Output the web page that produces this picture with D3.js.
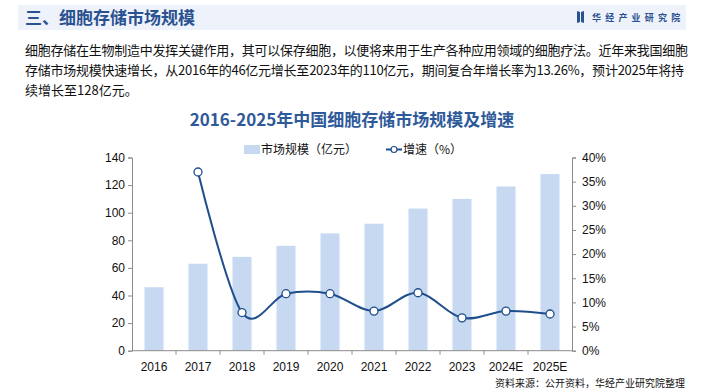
<!DOCTYPE html>
<html>
<head>
<meta charset="utf-8">
<script src="https://cdn.jsdelivr.net/npm/d3@7/dist/d3.min.js"></script>
<style>
    body { margin: 0; background: #fff; }
    svg { display: block; font-family: "Liberation Sans", Arial, "Noto Sans CJK SC", sans-serif; }
</style>
</head>
<body>
<div id="chart"></div>
<script>
// data
const years = ['2016', '2017', '2018', '2019', '2020', '2021', '2022', '2023', '2024E', '2025E'];
const marketSize = [46, 63, 68, 76, 85, 92, 103, 110, 119, 128];   // 亿元
const growth = [null, 37.0, 7.9, 11.8, 11.8, 8.2, 12.0, 6.8, 8.2, 7.6]; // %
const leftTicks = [0, 20, 40, 60, 80, 100, 120, 140];
const rightTicks = [0, 5, 10, 15, 20, 25, 30, 35, 40];

const paraLines = [
    '细胞存储在生物制造中发挥关键作用，其可以保存细胞，以便将来用于生产各种应用领域的细胞疗法。近年来我国细胞',
    '存储市场规模快速增长，从2016年的46亿元增长至2023年的110亿元，期间复合年增长率为13.26%，预计2025年将持',
    '续增长至128亿元。'
];

const width = 705, height = 392;
const darkBlue = '#2a5190';
const barColor = '#c6d9f1';
const axisColor = '#8c8c8c';
const cjk = '"Noto Sans CJK SC", sans-serif';

const svg = d3.select('#chart').append('svg')
    .attr('width', width).attr('height', height);

// header banner
svg.append('rect')
    .attr('x', 18).attr('y', 5).attr('width', 668).attr('height', 25)
    .attr('fill', '#eef3fb');
svg.append('text')
    .attr('x', 25).attr('y', 24)
    .attr('font-family', cjk).attr('font-size', 17).attr('font-weight', 'bold')
    .attr('fill', darkBlue)
    .text('三、细胞存储市场规模');

// logo
let logo = svg.append('g').attr('transform', 'translate(577,11)');
logo.append('path').attr('d', 'M0,0 L3,1 L3,11 L0,12 Z').attr('fill', darkBlue);
logo.append('path').attr('d', 'M4,1 L7,0 L7,12 L4,11 Z').attr('fill', darkBlue);
svg.append('text')
    .attr('x', 592).attr('y', 21)
    .attr('font-family', cjk).attr('font-size', 9).attr('font-weight', 'bold')
    .attr('letter-spacing', 4.2)
    .attr('fill', darkBlue)
    .text('华经产业研究院');

// paragraph
svg.selectAll('.para')
    .data(paraLines)
    .enter().append('text')
    .attr('class', 'para')
    .attr('x', 25)
    .attr('y', (d, i) => 55 + i * 20)
    .attr('font-family', cjk).attr('font-size', 13)
    .attr('fill', '#111')
    .attr('textLength', (d, i) => i < 2 ? (i === 0 ? 663 : 659) : null)
    .attr('lengthAdjust', 'spacing')
    .text(d => d);

// chart title
svg.append('text')
    .attr('x', 352).attr('y', 126)
    .attr('text-anchor', 'middle')
    .attr('font-family', cjk).attr('font-size', 17).attr('font-weight', 'bold')
    .attr('fill', '#2f5a9a')
    .text('2016-2025年中国细胞存储市场规模及增速');

// scales
const margin = { top: 157.5, bottom: 350.7, left: 132, right: 572 };
const x = d3.scaleBand().domain(years).range([margin.left, margin.right]);
const yL = d3.scaleLinear().domain([0, 140]).range([margin.bottom, margin.top]);
const yR = d3.scaleLinear().domain([0, 40]).range([margin.bottom, margin.top]);

// bars
const barW = 19;
svg.append('g').selectAll('rect')
    .data(marketSize)
    .enter().append('rect')
    .attr('x', (d, i) => x(years[i]) + x.bandwidth() / 2 - barW / 2)
    .attr('y', d => yL(d))
    .attr('width', barW)
    .attr('height', d => yL(0) - yL(d))
    .attr('fill', barColor);

// axes
const axisFont = g => {
    g.selectAll('text').attr('font-size', 12).attr('fill', '#111')
        .attr('font-family', '"Liberation Sans", Arial, sans-serif');
    g.selectAll('line, path').attr('stroke', axisColor);
};

const gl = svg.append('g')
    .attr('transform', `translate(${margin.left},0)`)
    .call(d3.axisLeft(yL).tickValues(leftTicks).tickSize(4).tickPadding(3));
gl.call(axisFont);

const gr = svg.append('g')
    .attr('transform', `translate(${margin.right},0)`)
    .call(d3.axisRight(yR).tickValues(rightTicks).tickSize(4).tickPadding(6)
        .tickFormat(d => d + '%'));
gr.call(axisFont);

const gx = svg.append('g')
    .attr('transform', `translate(0,${margin.bottom})`)
    .call(d3.axisBottom(x).tickSize(0).tickPadding(12));
gx.call(axisFont);
gx.select('.domain').attr('d', `M${margin.left},0H${margin.right}`);
// tick marks at band boundaries
gx.selectAll('.bound')
    .data(years.slice(1))
    .enter().append('line')
    .attr('class', 'bound')
    .attr('x1', d => x(d)).attr('x2', d => x(d))
    .attr('y1', 0).attr('y2', 4)
    .attr('stroke', axisColor);

// growth line
const growthPts = growth
    .map((g, i) => ({ year: years[i], g: g }))
    .filter(d => d.g !== null);

const line = d3.line()
    .curve(d3.curveCardinal.tension(0))
    .x(d => x(d.year) + x.bandwidth() / 2)
    .y(d => yR(d.g));

svg.append('path')
    .datum(growthPts)
    .attr('d', line)
    .attr('fill', 'none')
    .attr('stroke', '#1f4e8c')
    .attr('stroke-width', 2);

svg.append('g').selectAll('circle')
    .data(growthPts)
    .enter().append('circle')
    .attr('cx', d => x(d.year) + x.bandwidth() / 2)
    .attr('cy', d => yR(d.g))
    .attr('r', 4)
    .attr('fill', '#fff')
    .attr('stroke', '#1f4e8c')
    .attr('stroke-width', 1.3);

// legend
let legend = svg.append('g').attr('font-family', cjk).attr('font-size', 12).attr('fill', '#111');
legend.append('rect')
    .attr('x', 244).attr('y', 145).attr('width', 16).attr('height', 9)
    .attr('fill', barColor);
legend.append('text').attr('x', 261).attr('y', 154).text('市场规模（亿元）');
legend.append('line')
    .attr('x1', 386).attr('x2', 402).attr('y1', 149.5).attr('y2', 149.5)
    .attr('stroke', '#1f4e8c').attr('stroke-width', 2);
legend.append('circle')
    .attr('cx', 394).attr('cy', 149.5).attr('r', 3)
    .attr('fill', '#fff').attr('stroke', '#1f4e8c').attr('stroke-width', 1.2);
legend.append('text').attr('x', 403).attr('y', 154).text('增速（%）');

// source
svg.append('text')
    .attr('x', 685).attr('y', 387)
    .attr('text-anchor', 'end')
    .attr('font-family', cjk).attr('font-size', 10)
    .attr('fill', '#111')
    .text('资料来源：公开资料，华经产业研究院整理');
</script>
</body>
</html>
